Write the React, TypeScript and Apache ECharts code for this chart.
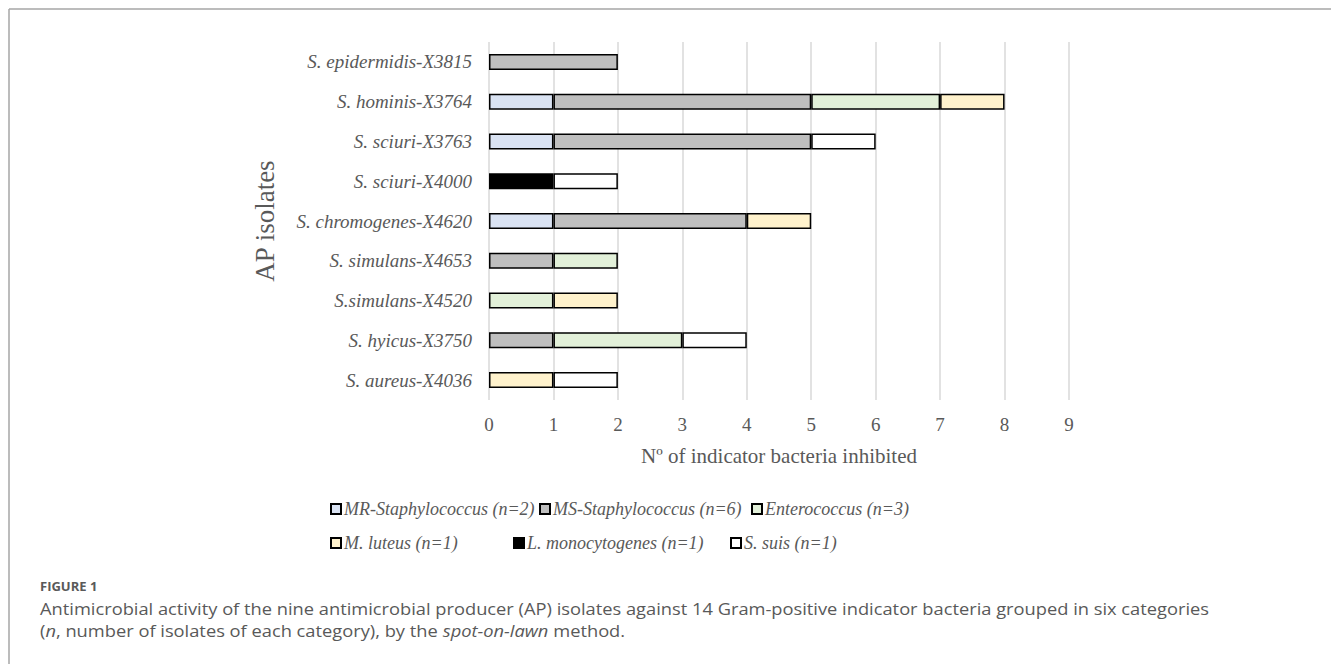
import React, { useEffect, useRef } from "react";
import * as echarts from "echarts";

const isolates = [
  "S. epidermidis-X3815",
  "S. hominis-X3764",
  "S. sciuri-X3763",
  "S. sciuri-X4000",
  "S. chromogenes-X4620",
  "S. simulans-X4653",
  "S.simulans-X4520",
  "S. hyicus-X3750",
  "S. aureus-X4036",
];

const seriesNames = [
  "MR-Staphylococcus (n=2)",
  "MS-Staphylococcus (n=6)",
  "Enterococcus (n=3)",
  "M. luteus (n=1)",
  "L. monocytogenes (n=1)",
  "S. suis (n=1)",
];

const mrStaph = [null, 1, 1, null, 1, null, null, null, null];
const msStaph = [2, 4, 4, null, 3, 1, null, 1, null];
const enterococcus = [null, 2, null, null, null, 1, 1, 2, null];
const mLuteus = [null, 1, null, null, 1, null, 1, null, 1];
const lMono = [null, null, null, 1, null, null, null, null, null];
const sSuis = [null, null, 1, 1, null, null, null, 1, 1];

const seriesData = [mrStaph, msStaph, enterococcus, mLuteus, lMono, sSuis];
const seriesColors = ["#DAE3F3", "#BFBFBF", "#E2F0D9", "#FFF2CC", "#000000", "#FFFFFF"];

const xTicks = [0, 1, 2, 3, 4, 5, 6, 7, 8, 9];

const legendPos = [
  { left: 330, top: 500 },
  { left: 539, top: 500 },
  { left: 751, top: 500 },
  { left: 330, top: 534 },
  { left: 513, top: 534 },
  { left: 730, top: 534 },
];

const serif = "'Liberation Serif', 'Times New Roman', serif";
const sans = "'Open Sans', 'Noto Sans', sans-serif";
const textColor = "#595959";

export default function App() {
  const ref = useRef<HTMLDivElement>(null);

  useEffect(() => {
    document.body.style.margin = "0";
    if (!ref.current) return;
    const chart = echarts.init(ref.current, null, { renderer: "svg" });
    const option: any = {
      animation: false,
      backgroundColor: "#ffffff",
      grid: { left: 489, right: 262, top: 42, height: 358, containLabel: false },
      xAxis: {
        type: "value",
        min: xTicks[0],
        max: xTicks[xTicks.length - 1],
        interval: 1,
        name: "Nº of indicator bacteria inhibited",
        nameLocation: "middle",
        nameGap: 45,
        nameTextStyle: { fontFamily: serif, fontSize: 21, color: textColor },
        axisLine: { show: false },
        axisTick: { show: false },
        axisLabel: { fontFamily: serif, fontSize: 19, color: textColor, margin: 15 },
        splitLine: { show: true, lineStyle: { color: "#D9D9D9", width: 1.5 } },
      },
      yAxis: {
        type: "category",
        data: isolates,
        inverse: true,
        axisLine: { show: false },
        axisTick: { show: false },
        axisLabel: {
          fontFamily: serif,
          fontStyle: "italic",
          fontSize: 19,
          color: textColor,
          margin: 17,
        },
      },
      legend: seriesNames.map((n, i) => ({
        show: true,
        data: [n],
        left: legendPos[i].left,
        top: legendPos[i].top,
        orient: "horizontal",
        padding: 0,
        itemWidth: 10,
        itemHeight: 10,
        itemGap: 4,
        icon: "rect",
        selectedMode: false,
        textStyle: {
          fontFamily: serif,
          fontStyle: "italic",
          fontSize: 18,
          color: textColor,
          padding: [0, 0, 0, -2],
        },
      })),
      series: seriesNames.map((n, i) => ({
        name: n,
        type: "bar",
        stack: "total",
        barWidth: 16,
        data: seriesData[i],
        itemStyle: {
          color: seriesColors[i],
          borderColor: "#000000",
          borderWidth: 1.5,
        },
      })),
      graphic: [
        {
          type: "line",
          shape: { x1: 9, y1: 9, x2: 1331, y2: 9 },
          style: { stroke: "#A6A6A6", lineWidth: 1.5 },
          silent: true,
        },
        {
          type: "line",
          shape: { x1: 9, y1: 9, x2: 9, y2: 664 },
          style: { stroke: "#A6A6A6", lineWidth: 1.5 },
          silent: true,
        },
        {
          type: "text",
          x: 265,
          y: 221,
          rotation: Math.PI / 2,
          style: {
            text: "AP isolates",
            fontFamily: serif,
            fontSize: 27,
            fill: textColor,
            align: "center",
            verticalAlign: "middle",
          },
        },
        {
          type: "text",
          x: 40,
          y: 586,
          style: {
            text: "FIGURE 1",
            fontFamily: sans,
            fontWeight: "bold",
            fontSize: 13,
            fill: textColor,
            verticalAlign: "middle",
          },
        },
        {
          type: "text",
          x: 40,
          y: 609,
          scaleX: 1.18,
          style: {
            text: "Antimicrobial activity of the nine antimicrobial producer (AP) isolates against 14 Gram-positive indicator bacteria grouped in six categories",
            fontFamily: sans,
            fontSize: 15.5,
            fill: textColor,
            verticalAlign: "middle",
          },
        },
        {
          type: "text",
          x: 40,
          y: 631,
          scaleX: 1.18,
          style: {
            text: "({i|n}, number of isolates of each category), by the {i|spot-on-lawn} method.",
            fontFamily: sans,
            fontSize: 15.5,
            fill: textColor,
            verticalAlign: "middle",
            rich: {
              i: { fontFamily: sans, fontSize: 15.5, fontStyle: "italic", fill: textColor },
            },
          },
        },
      ],
    };
    chart.setOption(option);
    return () => chart.dispose();
  }, []);

  return <div ref={ref} style={{ width: 1331, height: 664 }} />;
}
